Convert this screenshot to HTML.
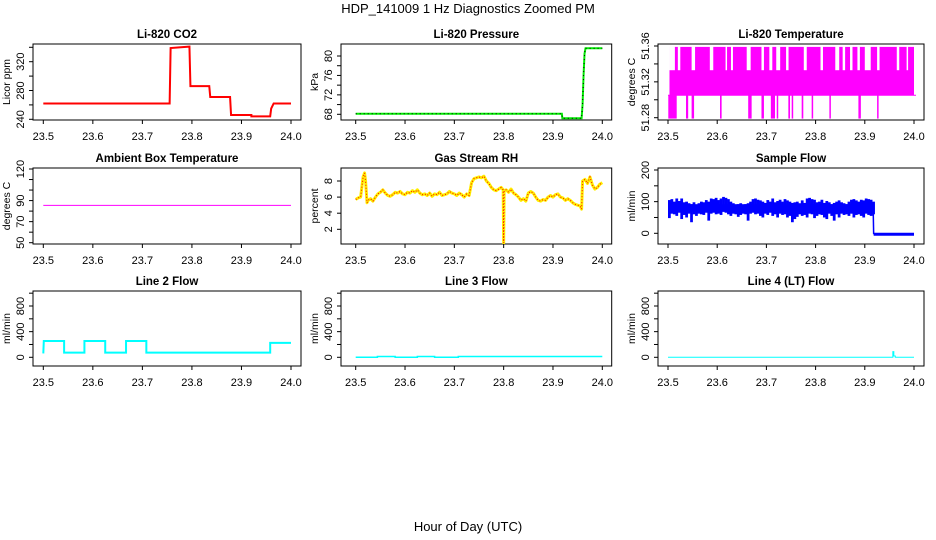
<!DOCTYPE html>
<html><head><meta charset="utf-8"><style>
html,body{margin:0;padding:0;background:#fff;}
svg{display:block;font-family:"Liberation Sans",Arial,sans-serif;}
</style></head><body>
<svg id="chart" width="936" height="540" viewBox="0 0 936 540" xmlns="http://www.w3.org/2000/svg">
<rect width="936" height="540" fill="#fff"/>
<text x="468" y="13" font-size="13" text-anchor="middle">HDP_141009  1 Hz Diagnostics Zoomed PM</text>
<text x="468" y="531" font-size="13" text-anchor="middle">Hour of Day (UTC)</text>
</svg>
<script>
const xTicks = [23.5, 23.6, 23.7, 23.8, 23.9, 24.0];
const xTickLabels = ["23.5","23.6","23.7","23.8","23.9","24.0"];

// CO2 (step series)
const co2X = [23.5, 23.755, 23.757, 23.795, 23.797, 23.835, 23.837, 23.877, 23.879, 23.92, 23.92, 23.958, 23.96, 23.965, 24.0];
const co2Y = [262, 262, 339, 341, 286, 286, 271, 271, 246, 246, 244, 244, 255, 262, 262];
// Pressure
const presX = [23.5, 23.918, 23.919, 23.958, 23.96, 23.962, 23.964, 23.966, 24.0];
const presY = [68.1, 68.1, 67.2, 67.2, 70, 76, 80.5, 81.6, 81.6];
// Temperature: band levels and spikes
const tempBandX = [23.503, 24.0];
const tempLow = 51.305, tempMid = 51.333, tempTop = 51.359, tempBottom = 51.279;
const tempTopGaps = [[23.503,23.514],[23.52,23.525],[23.548,23.555],[23.585,23.592],[23.617,23.62],[23.628,23.632],[23.66,23.668],[23.69,23.695],[23.706,23.712],[23.72,23.728],[23.74,23.745],[23.776,23.782],[23.81,23.815],[23.84,23.848],[23.855,23.86],[23.87,23.875],[23.885,23.89],[23.9,23.912],[23.925,23.93],[23.965,23.97],[23.985,23.988]];
const tempBottomSpikes = [[23.5006,23.5177],[23.5366,23.541],[23.548,23.553],[23.6057,23.609],[23.663,23.670],[23.690,23.695],[23.709,23.7175],[23.721,23.724],[23.7446,23.748],[23.7514,23.7534],[23.7717,23.775],[23.792,23.794],[23.828,23.831],[23.887,23.892],[23.925,23.928]];
// Ambient box temperature
const ambX = [23.5, 24.0];
const ambY = [85.4, 85.4];
// Gas stream RH
const rhX = [23.5,23.505,23.51,23.515,23.518,23.52,23.523,23.525,23.53,23.535,23.54,23.545,23.55,23.555,23.56,23.565,23.57,23.575,23.58,23.585,23.59,23.595,23.6,23.605,23.61,23.615,23.62,23.625,23.63,23.635,23.64,23.645,23.65,23.655,23.66,23.665,23.67,23.675,23.68,23.685,23.69,23.695,23.7,23.705,23.71,23.715,23.72,23.725,23.73,23.735,23.74,23.745,23.75,23.755,23.76,23.765,23.77,23.775,23.78,23.785,23.79,23.795,23.799,23.8,23.801,23.805,23.81,23.815,23.82,23.825,23.83,23.835,23.84,23.845,23.85,23.855,23.86,23.865,23.87,23.875,23.88,23.885,23.89,23.895,23.9,23.905,23.91,23.915,23.92,23.925,23.93,23.935,23.94,23.945,23.95,23.955,23.958,23.96,23.965,23.97,23.975,23.98,23.985,23.99,23.995,24.0];
const rhY = [5.7,5.9,6.0,8.5,9.0,8.0,5.3,5.6,5.8,5.5,6.0,6.4,6.6,6.9,6.5,6.2,6.1,6.3,6.6,6.5,6.7,6.4,6.3,6.6,6.5,6.8,6.6,6.9,6.5,6.3,6.4,6.2,6.5,6.1,6.4,6.3,6.6,6.2,6.3,6.4,6.7,6.5,6.4,6.2,6.5,6.3,6.0,6.4,6.2,7.8,8.3,8.4,8.5,8.4,8.6,8.0,7.7,7.2,6.9,6.8,7.0,7.2,6.9,0.3,6.8,6.9,6.6,7.0,6.5,6.3,6.0,5.6,5.8,5.5,6.5,6.7,6.5,6.0,5.6,5.5,5.7,5.6,6.0,6.2,6.0,6.3,6.4,6.0,5.9,5.6,5.8,5.6,5.3,5.1,5.0,4.9,4.5,8.0,8.2,7.7,8.5,7.5,7.0,7.2,7.6,7.8];
// Sample flow (per-bin min / max)
const sfX = [23.5,23.505,23.51,23.515,23.52,23.525,23.53,23.535,23.54,23.545,23.55,23.555,23.56,23.565,23.57,23.575,23.58,23.585,23.59,23.595,23.6,23.605,23.61,23.615,23.62,23.625,23.63,23.635,23.64,23.645,23.65,23.655,23.66,23.665,23.67,23.675,23.68,23.685,23.69,23.695,23.7,23.705,23.71,23.715,23.72,23.725,23.73,23.735,23.74,23.745,23.75,23.755,23.76,23.765,23.77,23.775,23.78,23.785,23.79,23.795,23.8,23.805,23.81,23.815,23.82,23.825,23.83,23.835,23.84,23.845,23.85,23.855,23.86,23.865,23.87,23.875,23.88,23.885,23.89,23.895,23.9,23.905,23.91,23.915];
const sfLo = [48,62,60,55,65,45,58,50,62,35,60,55,62,60,58,65,40,62,65,60,62,58,68,65,60,55,62,60,52,58,62,60,40,62,65,60,62,55,50,62,58,65,55,60,50,62,58,60,50,55,35,45,52,60,55,58,50,62,60,48,55,60,58,50,45,62,55,40,60,50,62,58,60,55,62,50,58,60,55,50,62,58,55,60];
const sfHi = [105,108,100,110,102,110,98,100,95,92,98,88,95,100,98,105,100,110,108,112,105,110,115,112,108,100,95,90,92,95,90,92,95,100,108,110,106,104,100,96,105,100,110,98,102,106,100,108,104,100,96,98,100,95,104,96,110,112,108,106,98,100,106,96,102,98,92,96,100,104,98,95,92,100,106,108,104,100,106,104,110,108,106,100];
const sfTailX = [23.918, 24.0];
const sfTailY = [-3, -3];
// Line flows
const l2X = [23.5,23.5,23.501,23.542,23.542,23.583,23.583,23.625,23.625,23.667,23.667,23.708,23.708,23.958,23.958,24.0];
const l2Y = [60,60,255,255,72,72,255,255,72,72,255,255,72,72,225,225];
const l3X = [23.5,23.544,23.544,23.58,23.58,23.625,23.625,23.66,23.66,23.708,23.708,24.0];
const l3Y = [0,0,12,12,0,0,12,12,0,0,12,12];
const l4X = [23.5,23.957,23.957,23.959,23.959,23.962,23.962,24.0];
const l4Y = [0,0,88,88,20,20,0,0];

const svg = document.getElementById('chart');
const NS = 'http://www.w3.org/2000/svg';
function mk(tag, attrs, parent){ const e=document.createElementNS(NS,tag); for(const k in attrs) e.setAttribute(k,attrs[k]); (parent||svg).appendChild(e); return e; }

function panel(o){
  const g = mk('g',{});
  
  
  const sx = v => o.t0 + (v-23.5)/(0.5)*(o.t1-o.t0);
  const sy = v => o.py0 + (v-o.v0)/(o.v1-o.v0)*(o.py1-o.py0);
  const t = mk('text',{x:(o.x0+o.x1)/2,y:o.y0-6,'font-size':11.5,'font-weight':'bold','text-anchor':'middle'},g);
  t.textContent = o.title;
  
  
  const box = mk('rect',{x:o.x0,y:o.y0,width:o.x1-o.x0,height:o.y1-o.y0,fill:'none',stroke:'#000','stroke-width':1},g);
  
  
  const xa = mk('g',{},g);
  
  
  mk('line',{x1:sx(xTicks[0]),x2:sx(xTicks[xTicks.length-1]),y1:o.y1,y2:o.y1,stroke:'#000'},xa);
  xTicks.forEach((v,i)=>{
    mk('line',{x1:sx(v),x2:sx(v),y1:o.y1,y2:o.y1+4,stroke:'#000'},xa);
    const l = mk('text',{x:sx(v),y:o.y1+20,'font-size':11,'text-anchor':'middle'},xa);
    l.textContent = xTickLabels[i];
    
    
  });
  const ya = mk('g',{},g);
  
  
  mk('line',{x1:o.x0,x2:o.x0,y1:sy(o.ticks[0]),y2:sy(o.ticks[o.ticks.length-1]),stroke:'#000'},ya);
  o.ticks.forEach(v=>{
    mk('line',{x1:o.x0-4,x2:o.x0,y1:sy(v),y2:sy(v),stroke:'#000'},ya);
  });
  o.labels.forEach((s,i)=>{
    const yy = sy(o.labelVals[i]); const xx = o.x0-9;
    const l = mk('text',{x:xx,y:yy,'font-size':11,'text-anchor':'middle',transform:`rotate(-90 ${xx} ${yy})`},ya);
    l.textContent = s;
    
    
  });
  const yc=(o.y0+o.y1)/2, xl=o.x0-23;
  const yl = mk('text',{x:xl,y:yc,'font-size':10.5,'text-anchor':'middle',transform:`rotate(-90 ${xl} ${yc})`},g);
  yl.textContent = o.ylab;
  
  
  const clip = 'clip-'+o.name;
  const cp = mk('clipPath',{id:clip},g);
  mk('rect',{x:o.x0,y:o.y0,width:o.x1-o.x0,height:o.y1-o.y0},cp);
  const dg = mk('g',{'clip-path':`url(#${clip})`},g);
  return {g:dg,sx,sy};
}
function pathFrom(xs,ys,sx,sy){ return xs.map((x,i)=>(i?'L':'M')+sx(x).toFixed(2)+' '+sy(ys[i]).toFixed(2)).join(' '); }
function line(p,xs,ys,attrs,name){
  const e = mk('path',Object.assign({d:pathFrom(xs,ys,p.sx,p.sy),fill:'none'},attrs),p.g);
  
  
  return e;
}

const C1={x0:33,x1:301,t0:43.3,t1:291}, C2={x0:341,x1:611.7,t0:355.7,t1:602.3}, C3={x0:658,x1:924,t0:668,t1:914};
const R1={y0:44,y1:120}, R2={y0:168,y1:244}, R3={y0:291,y1:366};

// CO2
let p = panel(Object.assign({name:'co2-panel',title:'Li-820 CO2',ylab:'Licor ppm',v0:240,py0:119.3,v1:320,py1:61.7,ticks:[240,260,280,300,320,340],labels:['240','280','320'],labelVals:[240,280,320]},C1,R1));
line(p,co2X,co2Y,{stroke:'#ff0000','stroke-width':2},'co2-series');

// Pressure
p = panel(Object.assign({name:'pressure-panel',title:'Li-820 Pressure',ylab:'kPa',v0:68,py0:114.3,v1:80,py1:56,ticks:[68,70,72,74,76,78,80],labels:['68','72','76','80'],labelVals:[68,72,76,80]},C2,R2.y0?R1:R1));
line(p,presX,presY,{stroke:'#00ee00','stroke-width':2},'pressure-series');
line(p,presX,presY,{stroke:'#000','stroke-width':1,'stroke-dasharray':'1 3'},'pressure-points');

// Temperature
p = panel(Object.assign({name:'temperature-panel',title:'Li-820 Temperature',ylab:'degrees C',v0:51.28,py0:117.7,v1:51.36,py1:46,ticks:[51.28,51.30,51.32,51.34,51.36],labels:['51.28','51.32','51.36'],labelVals:[51.28,51.32,51.36]},C3,R1));
{
  const fill='#ff00ff';
  const x0=p.sx(tempBandX[0]), x1=p.sx(tempBandX[1]);
  const band = mk('rect',{x:x0,y:p.sy(tempTop),width:x1-x0,height:p.sy(tempLow)-p.sy(tempTop),fill},p.g);
  
  
  mk('line',{x1:p.sx(23.5),x2:p.sx(24.0)+2,y1:p.sy(tempLow),y2:p.sy(tempLow),stroke:fill,'stroke-width':1},p.g);
  tempTopGaps.forEach(gp=>{
    const r = mk('rect',{x:p.sx(gp[0]),y:p.sy(tempTop)-1,width:p.sx(gp[1])-p.sx(gp[0]),height:p.sy(tempMid)-p.sy(tempTop)+1,fill:'#fff'},p.g);
    
    
  });
  tempBottomSpikes.forEach(sp=>{
    const r = mk('rect',{x:p.sx(sp[0]),y:p.sy(tempLow),width:Math.max(1.5,p.sx(sp[1])-p.sx(sp[0])),height:p.sy(tempBottom)-p.sy(tempLow),fill},p.g);
    
    
  });
}

// Ambient
p = panel(Object.assign({name:'ambient-temperature-panel',title:'Ambient Box Temperature',ylab:'degrees C',v0:50,py0:242.7,v1:120,py1:169,ticks:[50,60,70,80,90,100,110,120],labels:['50','70','90','120'],labelVals:[50,70,90,120]},C1,R2));
line(p,ambX,ambY,{stroke:'#ff00ff','stroke-width':1},'ambient-series');

// RH
p = panel(Object.assign({name:'rh-panel',title:'Gas Stream RH',ylab:'percent',v0:2,py0:229.3,v1:8,py1:181,ticks:[2,4,6,8],labels:['2','4','6','8'],labelVals:[2,4,6,8]},C2,R2));
line(p,rhX,rhY,{stroke:'#ffee00','stroke-width':3,'stroke-linejoin':'round'},'rh-series');
line(p,rhX,rhY,{stroke:'#ff0000','stroke-width':1,'stroke-dasharray':'1 2'},'rh-points');

// Sample flow
p = panel(Object.assign({name:'sample-flow-panel',title:'Sample Flow',ylab:'ml/min',v0:0,py0:233.3,v1:200,py1:170,ticks:[0,50,100,150,200],labels:['0','100','200'],labelVals:[0,100,200]},C3,R2));
{
  const w = p.sx(23.505)-p.sx(23.5);
  sfX.forEach((x,i)=>{
    const r = mk('rect',{x:p.sx(x),y:p.sy(sfHi[i]),width:w+0.3,height:p.sy(sfLo[i])-p.sy(sfHi[i]),fill:'#0000ff'},p.g);
    
    
  });
  mk('rect',{x:p.sx(sfX[0]),y:p.sy(92),width:p.sx(sfX[sfX.length-1])-p.sx(sfX[0])+w,height:p.sy(68)-p.sy(92),fill:'#0000ff'},p.g);
  line(p,[sfX[sfX.length-1]+0.002,sfTailX[0]],[80,sfTailY[0]],{stroke:'#0000ff','stroke-width':1.5},'sample-flow-drop');
  line(p,sfTailX,sfTailY,{stroke:'#0000ff','stroke-width':3},'sample-flow-tail');
}

// Line flows
const flowOpts = {v0:0,py0:357.3,v1:800,py1:306,ticks:[0,200,400,600,800,1000],labels:['0','400','800'],labelVals:[0,400,800],ylab:'ml/min'};
p = panel(Object.assign({name:'line2-flow-panel',title:'Line 2 Flow'},flowOpts,C1,R3));
line(p,l2X,l2Y,{stroke:'#00ffff','stroke-width':2},'line2-series');
p = panel(Object.assign({name:'line3-flow-panel',title:'Line 3 Flow'},flowOpts,C2,R3));
line(p,l3X,l3Y,{stroke:'#00ffff','stroke-width':1.5},'line3-series');
p = panel(Object.assign({name:'line4-flow-panel',title:'Line 4 (LT) Flow'},flowOpts,C3,R3));
line(p,l4X,l4Y,{stroke:'#00ffff','stroke-width':1},'line4-series');
</script>
</body></html>
